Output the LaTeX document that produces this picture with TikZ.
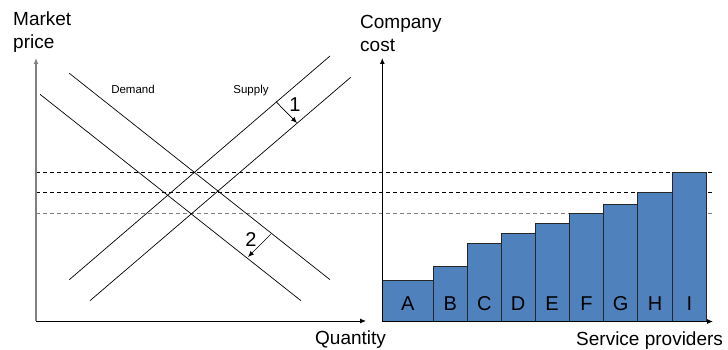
\documentclass[tikz,border=0pt]{standalone}
\usepackage{fontspec}
\setmainfont{Liberation Sans}
\usetikzlibrary{arrows.meta}
\definecolor{barblue}{HTML}{4F81BD}
\definecolor{axgray}{HTML}{808080}
\begin{document}
\begin{tikzpicture}[x=1pt,y=-1pt,
  ax/.style={line width=0.9pt,-{Latex[length=6pt,width=5pt]}},
  curve/.style={line width=0.7pt},
  dashln/.style={line width=1pt,dash pattern=on 4pt off 3pt},
  shiftarrow/.style={line width=0.7pt,-{Latex[length=6pt,width=5pt]}},
  bar/.style={draw=black!85,fill=barblue,line width=0.7pt},
  big/.style={font=\fontsize{19}{22}\selectfont,inner sep=0pt},
  small/.style={font=\fontsize{11.5}{13}\selectfont,inner sep=0pt},
  lab/.style={font=\fontsize{20}{22}\selectfont,inner sep=0pt,anchor=base}]
\useasboundingbox (0,0) rectangle (728,350);
% axes coordinates
\coordinate (lo) at (36,321);
\coordinate (ly) at (36,58);
\coordinate (lx) at (366,321);
\coordinate (ro) at (382.3,321.5);
\coordinate (ry) at (382.3,58);
\coordinate (rx) at (713,321.5);
% dashed levels
\coordinate (d1a) at (36,172.3); \coordinate (d1b) at (712,172.3);
\coordinate (d2a) at (36,192.5); \coordinate (d2b) at (712,192.5);
\coordinate (d3a) at (36,213.7); \coordinate (d3b) at (712,213.7);
\draw[dashln,black] (d1a) -- (d1b);
\draw[dashln,black] (d2a) -- (d2b);
\draw[dashln,axgray] (d3a) -- (d3b);
% bars
\foreach \n/\xa/\xb/\yt in {A/382.3/433.3/280,B/433.3/467.3/266.7,C/467.3/501.3/243.7,D/501.3/535/233.3,E/535/569.3/223.3,F/569.3/603.7/213.7,G/603.7/637.7/204.3,H/637.7/672.3/192.7,I/672.3/706.7/172.3}{
  \draw[bar] (\xa,321.5) rectangle (\xb,\yt);
  \node[lab] (bar\n) at ({(\xa+\xb)/2},310) {\n};
}
% axes
\draw[ax,axgray,line width=1.3pt] (lo) -- (ly);
\draw[ax] (lo) -- (lx);
\draw[ax] (ro) -- (ry);
\draw[ax] (ro) -- (rx);
% demand and supply lines
\coordinate (D1a) at (40,94.3);   \coordinate (D1b) at (301,300.7);
\coordinate (D2a) at (69.3,73.3); \coordinate (D2b) at (330,279.7);
\coordinate (S1a) at (69.3,279.7); \coordinate (S1b) at (330,56);
\coordinate (S2a) at (90,300.7);   \coordinate (S2b) at (350.7,77.3);
\draw[curve] (D1a) -- (D1b);
\draw[curve] (D2a) -- (D2b);
\draw[curve] (S1a) -- (S1b);
\draw[curve] (S2a) -- (S2b);
% shift arrows
\coordinate (a1s) at (276,101.7); \coordinate (a1e) at (297,123);
\coordinate (a2s) at (270.7,234.3); \coordinate (a2e) at (248,257);
\draw[shiftarrow] (a1s) -- (a1e);
\draw[shiftarrow] (a2s) -- (a2e);
\node[lab] (n1) at (295,111.5) {1};
\node[lab] (n2) at (251,246) {2};
% labels
\node[small,anchor=base] (dem) at (133,94) {Demand};
\node[small,anchor=base] (sup) at (251,94) {Supply};
\node[big,anchor=base west] (mk) at (13,25.5) {Market};
\node[big,anchor=base west] (pr) at (13,49) {price};
\node[big,anchor=base west] (co) at (360,29) {Company};
\node[big,anchor=base west] (cs) at (360,51.5) {cost};
\node[big,anchor=base west] (qt) at (315,344) {Quantity};
\node[big,anchor=base west] (sp) at (576,345.5) {Service providers};
\end{tikzpicture}
\end{document}
